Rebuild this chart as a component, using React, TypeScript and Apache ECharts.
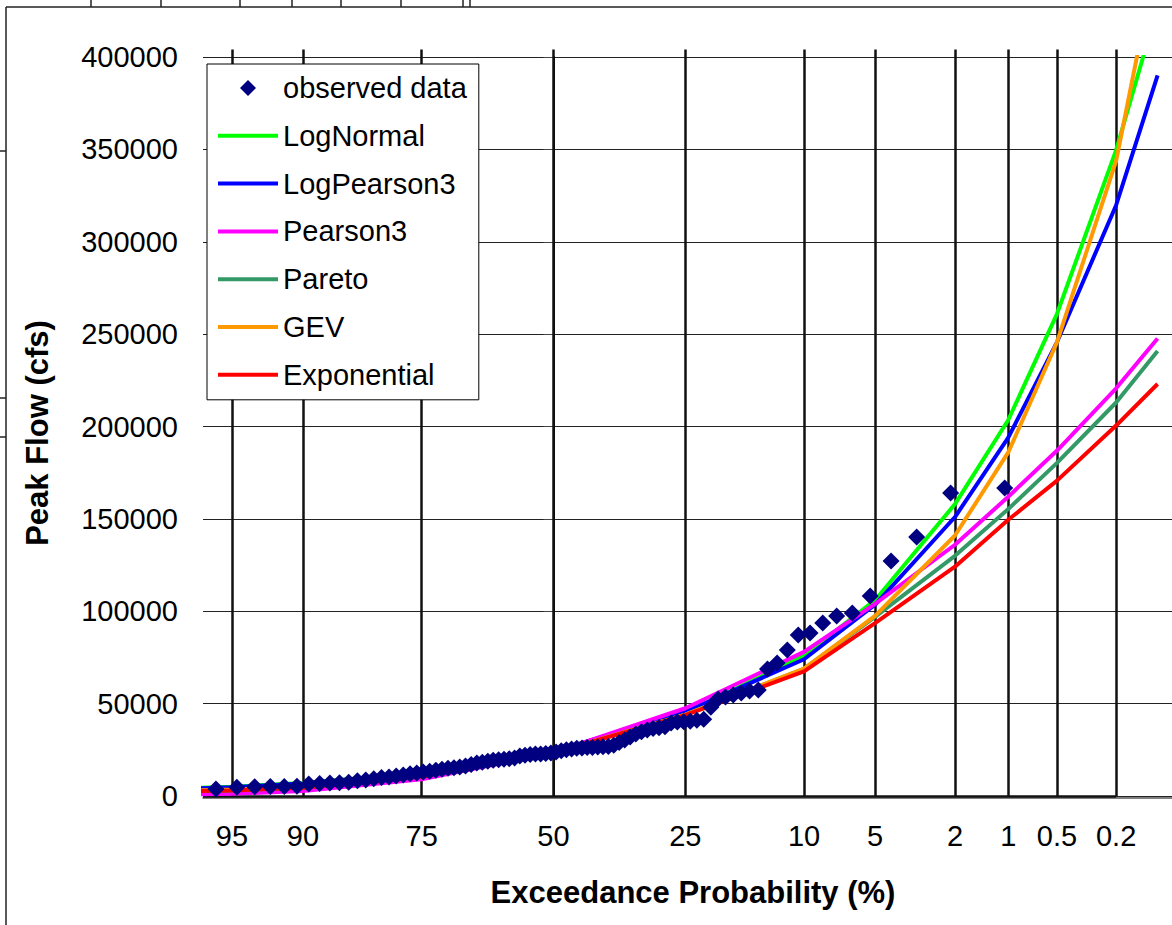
import React, { useEffect, useRef } from "react";
import * as echarts from "echarts";

// ---- axis tick labels (exceedance probability, %) ----
const tickLabels = ["95", "90", "75", "50", "25", "10", "5", "2", "1", "0.5", "0.2"];
const tickProbs = [95, 90, 75, 50, 25, 10, 5, 2, 1, 0.5, 0.2];

// ---- observed data: exceedance probability (%) and peak flow (cfs) ----
const obsProb = [
  1.05, 2.11, 3.16, 4.21, 5.26, 6.32, 7.37, 8.42, 9.47, 10.53,
  11.58, 12.63, 13.68, 14.74, 15.79, 16.84, 17.89, 18.95, 20.0, 21.05,
  22.11, 23.16, 24.21, 25.26, 26.32, 27.37, 28.42, 29.47, 30.53, 31.58,
  32.63, 33.68, 34.74, 35.79, 36.84, 37.89, 38.95, 40.0, 41.05, 42.11,
  43.16, 44.21, 45.26, 46.32, 47.37, 48.42, 49.47, 50.53, 51.58, 52.63,
  53.68, 54.74, 55.79, 56.84, 57.89, 58.95, 60.0, 61.05, 62.11, 63.16,
  64.21, 65.26, 66.32, 67.37, 68.42, 69.47, 70.53, 71.58, 72.63, 73.68,
  74.74, 75.79, 76.84, 77.89, 78.95, 80.0, 81.05, 82.11, 83.16, 84.21,
  85.26, 86.32, 87.37, 88.42, 89.47, 90.53, 91.58, 92.63, 93.68, 94.74,
  95.79,
];
const obsFlow = [
  166700, 164000, 140200, 127200, 108300, 99000, 97400, 93600, 88200, 87100,
  79000, 72000, 68700, 57400, 56800, 55800, 54700, 53600, 52500, 48000,
  41500, 41000, 40500, 40200, 40000, 39500, 37500, 37000, 36500, 35700,
  34800, 33500, 32000, 30300, 29000, 27500, 26800, 26600, 26500, 26300,
  26200, 26000, 25800, 25500, 25000, 24500, 23800, 23300, 23000, 22800,
  22700, 22500, 22100, 21600, 20600, 20200, 19900, 19600, 19300, 18800,
  18300, 17800, 17000, 16300, 15700, 15300, 15000, 14500, 14000, 13400,
  13000, 12400, 12000, 11400, 10800, 10300, 10000, 9300, 8700, 8200,
  7500, 7200, 7000, 6800, 6500, 5300, 5200, 5100, 5000, 4800,
  3800,
];

// ---- fitted distributions: exceedance probability (%) and flow (cfs) ----
const curveProb = [99, 95, 90, 75, 50, 25, 10, 5, 2, 1, 0.5, 0.2, 0.1];
const logNormal = [2700, 5000, 7000, 12500, 23500, 45000, 76000, 106000, 158000, 203500, 261000, 349600, 427000];
const logPearson3 = [2500, 4700, 6800, 12500, 24000, 45600, 74000, 103500, 151000, 194000, 245700, 319800, 390000];
const pearson3 = [0, 1200, 2700, 9000, 23500, 47500, 78000, 104000, 136000, 162000, 187000, 220700, 247600];
const pareto = [1500, 3000, 4500, 10500, 23500, 44000, 68800, 97000, 130000, 155300, 180300, 213000, 240900];
const gev = [2000, 3500, 5000, 11000, 23500, 44000, 69000, 97500, 141000, 186000, 245700, 343800, 456000];
const exponential = [1500, 3000, 4500, 10500, 23500, 43800, 67500, 93600, 124100, 149500, 170700, 200500, 223000];

// inverse standard normal CDF (probability-paper axis transform)
function probit(p: number): number {
  const a = [-3.969683028665376e1, 2.209460984245205e2, -2.759285104469687e2, 1.38357751867269e2, -3.066479806614716e1, 2.506628277459239];
  const b = [-5.447609879822406e1, 1.615858368580409e2, -1.556989798598866e2, 6.680131188771972e1, -1.328068155288572e1];
  const c = [-7.784894002430293e-3, -3.223964580411365e-1, -2.400758277161838, -2.549732539343734, 4.374664141464968, 2.938163982698783];
  const d = [7.784695709041462e-3, 3.224671290700398e-1, 2.445134137142996, 3.754408661907416];
  const plow = 0.02425;
  if (p < plow) {
    const q = Math.sqrt(-2 * Math.log(p));
    return (((((c[0] * q + c[1]) * q + c[2]) * q + c[3]) * q + c[4]) * q + c[5]) /
      ((((d[0] * q + d[1]) * q + d[2]) * q + d[3]) * q + 1);
  }
  if (p <= 1 - plow) {
    const q = p - 0.5;
    const r = q * q;
    return ((((((a[0] * r + a[1]) * r + a[2]) * r + a[3]) * r + a[4]) * r + a[5]) * q) /
      (((((b[0] * r + b[1]) * r + b[2]) * r + b[3]) * r + b[4]) * r + 1);
  }
  const q = Math.sqrt(-2 * Math.log(1 - p));
  return -(((((c[0] * q + c[1]) * q + c[2]) * q + c[3]) * q + c[4]) * q + c[5]) /
    ((((d[0] * q + d[1]) * q + d[2]) * q + d[3]) * q + 1);
}
const toZ = (exceedPct: number) => probit(1 - exceedPct / 100);

const FONT = "'Liberation Sans', Arial, sans-serif";
const X_MIN = -1.793;
const X_MAX = 3.164;
const V_TOP = 404000;
const LINE_ICON = "path://M0,0L60,0L60,4L0,4Z";

export default function App() {
  const ref = useRef<HTMLDivElement>(null);

  useEffect(() => {
    if (!ref.current) return;
    const chart = echarts.init(ref.current, undefined, { renderer: "svg" });
    const tickZ = tickProbs.map(toZ);

    const curve = (name: string, vals: number[], color: string, z: number) => ({
      name,
      type: "line",
      data: curveProb.map((p, i) => [toZ(p), vals[i]]),
      symbol: "none",
      showSymbol: false,
      clip: true,
      z,
      lineStyle: { color, width: 4 },
      itemStyle: { color },
      emphasis: { disabled: true },
    });

    const vLines = tickZ.map((z) => ({ coords: [[z, 0], [z, V_TOP]] }));
    vLines.push({ coords: [[X_MIN, 0], [tickZ[tickZ.length - 1], 0]] });

    const deco = (x1: number, y1: number, x2: number, y2: number) => ({
      type: "line",
      shape: { x1, y1, x2, y2 },
      style: { stroke: "#222", lineWidth: 1.5 },
      silent: true,
    });

    chart.setOption({
      animation: false,
      backgroundColor: "#ffffff",
      textStyle: { fontFamily: FONT },
      grid: { left: 203, right: 0, top: 57, bottom: 129 },
      xAxis: {
        type: "value",
        min: X_MIN,
        max: X_MAX,
        offset: 2,
        axisLine: { onZero: false, lineStyle: { color: "#555", width: 1.5 } },
        axisTick: { show: false },
        splitLine: { show: false },
        axisLabel: {
          customValues: tickZ,
          color: "#000",
          fontSize: 29,
          fontFamily: FONT,
          margin: 23,
          formatter: (v: number) => {
            let best = 0;
            for (let i = 1; i < tickZ.length; i++) {
              if (Math.abs(tickZ[i] - v) < Math.abs(tickZ[best] - v)) best = i;
            }
            return tickLabels[best];
          },
        },
        name: "Exceedance Probability (%)",
        nameLocation: "middle",
        nameGap: 79,
        nameTextStyle: {
          color: "#000",
          fontSize: 31,
          fontWeight: "bold",
          fontFamily: FONT,
          padding: [0, 0, 0, 11],
        },
      },
      yAxis: {
        type: "value",
        min: 0,
        max: 400000,
        interval: 50000,
        axisLine: { show: true, lineStyle: { color: "#000", width: 2 } },
        axisTick: { show: true, length: 10, lineStyle: { color: "#444", width: 1 } },
        axisLabel: {
          color: "#000",
          fontSize: 29,
          fontFamily: FONT,
          margin: 25,
          formatter: (v: number) => String(v),
        },
        splitLine: { show: true, lineStyle: { color: "#222", width: 1 } },
        name: "Peak Flow (cfs)",
        nameLocation: "middle",
        nameGap: 150,
        nameTextStyle: {
          color: "#000",
          fontSize: 31,
          fontWeight: "bold",
          fontFamily: FONT,
          padding: [0, 13, 0, 0],
        },
      },
      legend: {
        orient: "vertical",
        left: 207,
        top: 64,
        padding: [9, 12, 10, 11],
        itemGap: 17.8,
        itemWidth: 60,
        itemHeight: 16,
        backgroundColor: "#ffffff",
        borderColor: "#000",
        borderWidth: 1,
        borderRadius: 0,
        selectedMode: false,
        textStyle: { color: "#000", fontSize: 29, lineHeight: 30, fontFamily: FONT },
        data: [
          { name: "observed data", icon: "path://M0,-1L1,0L0,1L-1,0Z" },
          { name: "LogNormal", icon: LINE_ICON },
          { name: "LogPearson3", icon: LINE_ICON },
          { name: "Pearson3", icon: LINE_ICON },
          { name: "Pareto", icon: LINE_ICON },
          { name: "GEV", icon: LINE_ICON },
          { name: "Exponential", icon: LINE_ICON },
        ],
      },
      graphic: [
        deco(6, 7, 6, 925),
        deco(6, 7, 1172, 7),
        ...[91, 161, 240, 292, 341, 401, 463, 470].map((x) => deco(x, 0, x, 7)),
        ...[151, 398, 437].map((y) => deco(0, y, 6, y)),
      ],
      series: [
        {
          name: "probability grid",
          type: "lines",
          coordinateSystem: "cartesian2d",
          clip: false,
          silent: true,
          z: 1,
          lineStyle: { color: "#111", width: 2.5, opacity: 1 },
          data: vLines,
        },
        curve("LogNormal", logNormal, "#00ff00", 3),
        curve("LogPearson3", logPearson3, "#0000ff", 3),
        curve("Pearson3", pearson3, "#ff00ff", 3),
        curve("Pareto", pareto, "#339966", 3),
        curve("GEV", gev, "#ff9900", 3),
        curve("Exponential", exponential, "#ff0000", 3),
        {
          name: "observed data",
          type: "scatter",
          data: obsProb.map((p, i) => [toZ(p), obsFlow[i]]),
          symbol: "diamond",
          symbolSize: 17,
          itemStyle: { color: "#000080", opacity: 1 },
          z: 5,
          emphasis: { disabled: true },
        },
      ],
    });

    return () => chart.dispose();
  }, []);

  return (
    <div
      ref={ref}
      style={{ position: "fixed", left: 0, top: 0, width: 1172, height: 925, background: "#fff" }}
    />
  );
}
